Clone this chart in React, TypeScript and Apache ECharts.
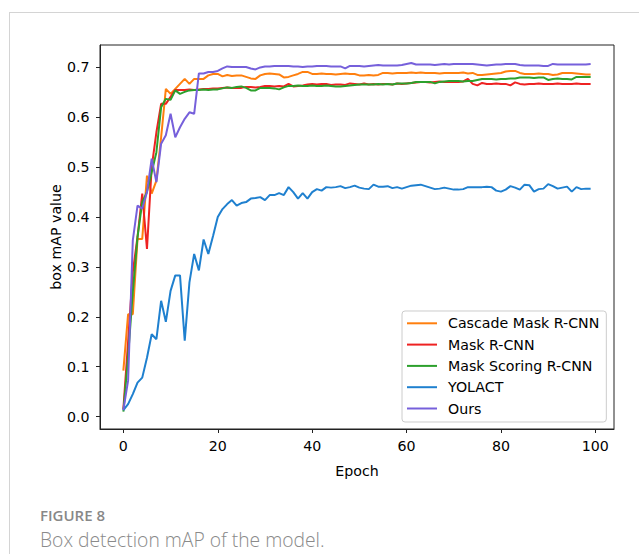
import React, { useEffect, useRef } from "react";
import * as echarts from "echarts";

const epochs: number[] = Array.from({ length: 100 }, (_, i) => i);

const cascadeMaskRCNN: number[] = [
  0.092, 0.205, 0.205, 0.356, 0.356, 0.483, 0.447, 0.473, 0.56, 0.657,
  0.647, 0.657, 0.667, 0.677, 0.667, 0.677, 0.677, 0.677, 0.684, 0.687,
  0.687, 0.682, 0.685, 0.683, 0.684, 0.684, 0.681, 0.678, 0.677, 0.684,
  0.687, 0.688, 0.687, 0.686, 0.68, 0.681, 0.684, 0.687, 0.691, 0.691,
  0.687, 0.687, 0.688, 0.687, 0.687, 0.686, 0.687, 0.688, 0.687, 0.687,
  0.684, 0.684, 0.685, 0.684, 0.685, 0.689, 0.689, 0.688, 0.689, 0.689,
  0.689, 0.69, 0.689, 0.69, 0.689, 0.689, 0.689, 0.688, 0.689, 0.689,
  0.689, 0.689, 0.69, 0.688, 0.689, 0.685, 0.685, 0.686, 0.687, 0.688,
  0.689, 0.692, 0.693, 0.693, 0.689, 0.687, 0.687, 0.687, 0.688, 0.687,
  0.687, 0.685, 0.686, 0.689, 0.689, 0.689, 0.688, 0.687, 0.686, 0.686,
];

const maskRCNN: number[] = [
  0.015, 0.15, 0.29, 0.36, 0.447, 0.336, 0.5, 0.57, 0.627, 0.627,
  0.641, 0.655, 0.655, 0.655, 0.656, 0.655, 0.656, 0.657, 0.657, 0.658,
  0.658, 0.659, 0.66, 0.659, 0.659, 0.659, 0.661, 0.661, 0.66, 0.661,
  0.663, 0.663, 0.662, 0.663, 0.662, 0.667, 0.662, 0.663, 0.664, 0.666,
  0.667, 0.666, 0.667, 0.667, 0.665, 0.666, 0.666, 0.665, 0.668, 0.667,
  0.666, 0.668, 0.666, 0.667, 0.666, 0.667, 0.667, 0.666, 0.668, 0.667,
  0.668, 0.669, 0.67, 0.671, 0.671, 0.67, 0.671, 0.672, 0.671, 0.671,
  0.671, 0.671, 0.672, 0.677, 0.667, 0.664, 0.669, 0.667, 0.667, 0.668,
  0.667, 0.667, 0.664, 0.67, 0.667, 0.666, 0.667, 0.667, 0.668, 0.667,
  0.667, 0.667, 0.668, 0.667, 0.667, 0.667, 0.668, 0.667, 0.667, 0.667,
];

const maskScoringRCNN: number[] = [
  0.01, 0.12, 0.25, 0.36, 0.43, 0.45, 0.49, 0.53, 0.62, 0.637,
  0.635, 0.654, 0.647, 0.651, 0.654, 0.655, 0.655, 0.656, 0.655, 0.656,
  0.656, 0.658, 0.66, 0.659, 0.661, 0.662, 0.659, 0.654, 0.654, 0.659,
  0.659, 0.659, 0.658, 0.656, 0.66, 0.663, 0.663, 0.664, 0.663, 0.663,
  0.664, 0.663, 0.663, 0.664, 0.663, 0.662, 0.662, 0.663, 0.664, 0.665,
  0.666, 0.666, 0.666, 0.666, 0.667, 0.666, 0.667, 0.666, 0.668, 0.668,
  0.668, 0.669, 0.671, 0.671, 0.671, 0.671, 0.668, 0.671, 0.672, 0.673,
  0.673, 0.673, 0.672, 0.673, 0.673, 0.675, 0.677, 0.677, 0.677, 0.676,
  0.677, 0.677, 0.678, 0.678, 0.68, 0.68, 0.68, 0.679, 0.68, 0.68,
  0.675, 0.677, 0.678, 0.677, 0.677, 0.676, 0.681, 0.681, 0.681, 0.681,
];

const yolact: number[] = [
  0.013, 0.025, 0.045, 0.068, 0.078, 0.118, 0.165, 0.155, 0.232, 0.19,
  0.252, 0.283, 0.283, 0.152, 0.269, 0.326, 0.293, 0.355, 0.326, 0.362,
  0.4, 0.416, 0.426, 0.434, 0.423, 0.428, 0.43, 0.437, 0.438, 0.44,
  0.434, 0.444, 0.444, 0.448, 0.444, 0.46, 0.45, 0.437, 0.448, 0.437,
  0.45, 0.456, 0.453, 0.46, 0.459, 0.46, 0.462, 0.458, 0.46, 0.463,
  0.459, 0.457, 0.456, 0.465, 0.461, 0.461, 0.462, 0.458, 0.46, 0.457,
  0.46, 0.463, 0.464, 0.465, 0.462, 0.459, 0.456, 0.457, 0.459, 0.457,
  0.455, 0.455, 0.456, 0.46, 0.46, 0.46, 0.46, 0.461, 0.46, 0.453,
  0.451, 0.455, 0.462, 0.459, 0.455, 0.465, 0.464, 0.451, 0.456, 0.457,
  0.466, 0.462, 0.457, 0.459, 0.461, 0.451, 0.46, 0.456, 0.457, 0.457,
];

const ours: number[] = [
  0.013, 0.072, 0.353, 0.423, 0.417, 0.45, 0.517, 0.47, 0.547, 0.564,
  0.607, 0.56, 0.58, 0.597, 0.61, 0.607, 0.688, 0.688, 0.691, 0.691,
  0.693, 0.698, 0.702, 0.701, 0.701, 0.701, 0.701, 0.698, 0.696, 0.7,
  0.702, 0.702, 0.703, 0.703, 0.703, 0.703, 0.702, 0.702, 0.701, 0.702,
  0.702, 0.703, 0.703, 0.703, 0.702, 0.702, 0.702, 0.698, 0.703, 0.703,
  0.703, 0.702, 0.703, 0.704, 0.705, 0.704, 0.704, 0.704, 0.704, 0.705,
  0.707, 0.709, 0.706, 0.706, 0.706, 0.706, 0.705, 0.706, 0.707, 0.706,
  0.707, 0.707, 0.707, 0.707, 0.707, 0.706, 0.705, 0.704, 0.705, 0.706,
  0.706, 0.707, 0.707, 0.707, 0.705, 0.704, 0.704, 0.704, 0.704, 0.703,
  0.703, 0.707, 0.706, 0.706, 0.706, 0.706, 0.706, 0.706, 0.706, 0.707,
];

const seriesNames: string[] = ["Cascade Mask R-CNN", "Mask R-CNN", "Mask Scoring R-CNN", "YOLACT", "Ours"];
const seriesColors: string[] = ["#ff7f0e", "#ee2222", "#2ca02c", "#1f80cf", "#7660db"];
const xTicks: number[] = [0, 20, 40, 60, 80, 100];
const yTicks: number[] = [0, 0.1, 0.2, 0.3, 0.4, 0.5, 0.6, 0.7];

const FONT = "'DejaVu Sans', sans-serif";
const FS = 14.2;

export default function App() {
  const ref = useRef<HTMLDivElement>(null);
  useEffect(() => {
    if (!ref.current) return;
    const chart = echarts.init(ref.current, null, { renderer: "svg" });
    const allData = [cascadeMaskRCNN, maskRCNN, maskScoringRCNN, yolact, ours];
    chart.setOption({
      animation: false,
      backgroundColor: "#ffffff",
      grid: {
        left: 100,
        top: 45,
        width: 514,
        height: 384,
        show: true,
        borderColor: "#222",
        borderWidth: 1,
        backgroundColor: "transparent",
      },
      legend: {
        orient: "vertical",
        left: 402,
        top: 311,
        data: seriesNames,
        icon: "rect",
        itemWidth: 30,
        itemHeight: 2,
        itemGap: 7.3,
        padding: [5.3, 7, 6.5, 5],
        backgroundColor: "rgba(255,255,255,0.8)",
        borderColor: "#cccccc",
        borderWidth: 1,
        borderRadius: 3,
        textStyle: {
          fontFamily: FONT,
          fontSize: FS,
          color: "#000",
          lineHeight: 14,
          padding: [0, 0, 0, 6],
        },
      },
      xAxis: {
        type: "value",
        min: -4.95,
        max: 103.95,
        name: "Epoch",
        nameLocation: "middle",
        nameGap: 35,
        nameMoveOverlap: false,
        nameTextStyle: { fontFamily: FONT, fontSize: FS, color: "#000" },
        axisLine: { show: true, onZero: false, lineStyle: { color: "#222", width: 1 } },
        axisTick: { show: true, length: 4, customValues: xTicks, lineStyle: { color: "#222" } },
        axisLabel: {
          customValues: xTicks,
          margin: 10,
          fontFamily: FONT,
          fontSize: FS,
          color: "#000",
          formatter: (v: number) => String(Math.round(v)),
        },
        splitLine: { show: false },
      },
      yAxis: {
        type: "value",
        min: -0.025,
        max: 0.745,
        name: "box mAP value",
        nameLocation: "middle",
        nameRotate: 90,
        nameGap: 37,
        nameMoveOverlap: false,
        nameTextStyle: { fontFamily: FONT, fontSize: FS, color: "#000" },
        axisLine: { show: true, onZero: false, lineStyle: { color: "#222", width: 1 } },
        axisTick: { show: true, length: 4, customValues: yTicks, lineStyle: { color: "#222" } },
        axisLabel: {
          customValues: yTicks,
          margin: 10.5,
          fontFamily: FONT,
          fontSize: FS,
          color: "#000",
          formatter: (v: number) => v.toFixed(1),
        },
        splitLine: { show: false },
      },
      series: seriesNames.map((name, i) => ({
        name,
        type: "line",
        data: epochs.map((e, j) => [e, allData[i][j]]),
        showSymbol: false,
        symbol: "none",
        color: seriesColors[i],
        lineStyle: { color: seriesColors[i], width: 2 },
        z: 2 + i,
      })),
      graphic: [
        {
          type: "line",
          shape: { x1: 9, y1: 12.5, x2: 639, y2: 12.5 },
          style: { stroke: "#d4d4d4", lineWidth: 1 },
        },
        {
          type: "line",
          shape: { x1: 9.5, y1: 12, x2: 9.5, y2: 554 },
          style: { stroke: "#d4d4d4", lineWidth: 1 },
        },
        {
          type: "text",
          left: 40,
          top: 507,
          style: {
            text: "FIGURE 8",
            fontFamily: "'Open Sans', sans-serif",
            fontSize: 15,
            fontWeight: 600,
            fill: "#888888",
          },
        },
        {
          type: "text",
          left: 40,
          top: 530,
          style: {
            text: "Box detection mAP of the model.",
            fontFamily: "'Open Sans', sans-serif",
            fontSize: 19.3,
            fontWeight: 300,
            fill: "#8a8a8a",
          },
        },
      ],
    });
    return () => chart.dispose();
  }, []);
  return (
    <div
      ref={ref}
      style={{ position: "fixed", left: 0, top: 0, width: 639, height: 554 }}
    />
  );
}
